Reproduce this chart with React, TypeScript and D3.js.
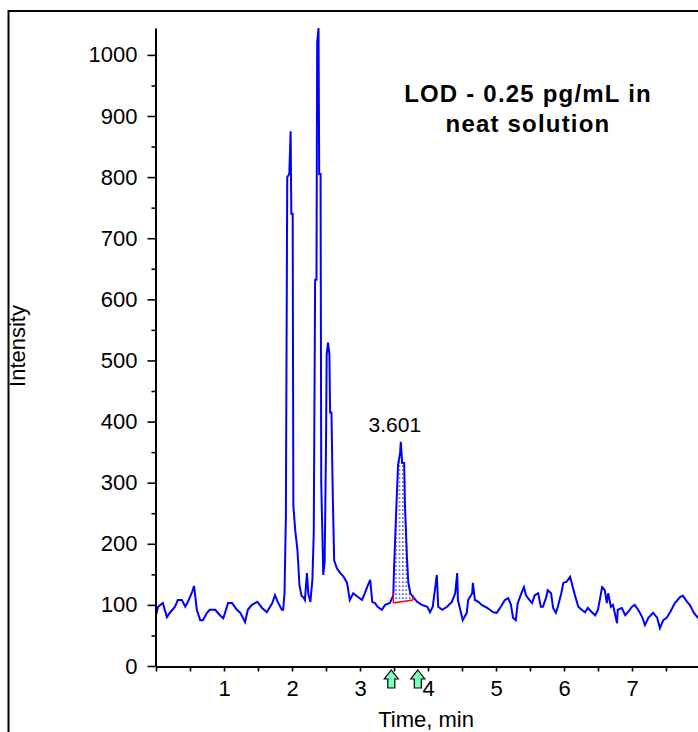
import * as d3 from "d3";
import React, { useEffect, useRef } from "react";

// retention time (min) and intensity
const timeMin = [
  0.00, 0.03, 0.10, 0.16, 0.21, 0.28, 0.32, 0.38, 0.43, 0.47, 0.53, 0.56, 0.60, 0.65, 0.69, 0.75, 0.79, 0.87, 0.94, 0.99,
  1.06, 1.12, 1.19, 1.24, 1.31, 1.35, 1.41, 1.49, 1.56, 1.63, 1.71, 1.75, 1.79, 1.85, 1.87,
  1.89, 1.91, 1.93, 1.96, 1.98, 1.99, 2.01, 2.02, 2.05, 2.08, 2.11, 2.14, 2.17, 2.19, 2.22, 2.24, 2.27, 2.30, 2.32,
  2.34, 2.36, 2.37, 2.39, 2.40, 2.42, 2.43, 2.46, 2.48, 2.50, 2.51, 2.53, 2.55, 2.56, 2.58, 2.60, 2.62,
  2.66, 2.71, 2.76, 2.81, 2.85, 2.90, 2.97, 3.03, 3.07, 3.12, 3.15, 3.18, 3.22, 3.26, 3.32, 3.37, 3.44,
  3.49, 3.50, 3.53, 3.56, 3.59, 3.60, 3.62, 3.65, 3.66, 3.69, 3.71, 3.74, 3.78,
  3.84, 3.91, 3.99, 4.03, 4.07, 4.13, 4.15, 4.21, 4.28, 4.35, 4.40, 4.43, 4.44, 4.50, 4.51, 4.57, 4.59, 4.65, 4.66,
  4.69, 4.74, 4.79, 4.87, 4.91, 4.96, 5.01, 5.06, 5.13, 5.18, 5.22, 5.25, 5.29, 5.32, 5.38, 5.41, 5.44, 5.47,
  5.53, 5.57, 5.62, 5.66, 5.69, 5.74, 5.76, 5.81, 5.84, 5.88, 5.91, 5.96, 5.99, 6.04, 6.09, 6.12, 6.16, 6.21,
  6.26, 6.31, 6.35, 6.41, 6.46, 6.50, 6.56, 6.57, 6.60, 6.63, 6.65, 6.69, 6.72, 6.78, 6.79, 6.85, 6.90, 6.94,
  7.00, 7.04, 7.09, 7.15, 7.19, 7.24, 7.31, 7.37, 7.41, 7.46, 7.51, 7.56, 7.63, 7.71, 7.75, 7.81, 7.85, 7.91, 7.97, 8.03,
];
const intensity = [
  83, 97, 103, 80, 88, 97, 108, 108, 97, 105, 121, 131, 92, 75, 75, 87, 92, 92, 83, 78,
  103, 103, 92, 87, 72, 92, 100, 105, 95, 88, 103, 116, 105, 92, 92,
  119, 244, 800, 805, 875, 740, 740, 262, 219, 190, 132, 115, 112, 108, 152, 118, 105, 141, 219,
  632, 632, 1020, 1044, 805, 805, 300, 149, 170, 360, 510, 529, 510, 415, 415, 277, 173,
  160, 152, 146, 136, 108, 119, 113, 108, 119, 133, 141, 105, 103, 97, 92, 100, 103,
  116, 157, 247, 329, 349, 367, 332, 332, 267, 178, 137, 119, 113,
  105, 100, 97, 88, 97, 149, 97, 92, 97, 105, 119, 152, 108, 80, 75, 87, 108, 119, 136,
  108, 105, 100, 95, 92, 88, 87, 95, 108, 111, 100, 79, 75, 103, 121, 129, 116, 111,
  103, 116, 119, 97, 97, 113, 124, 119, 95, 87, 97, 119, 136, 138, 146, 133, 116, 97,
  92, 88, 95, 88, 83, 92, 129, 128, 124, 103, 119, 97, 100, 70, 92, 95, 83, 88,
  97, 100, 92, 80, 67, 79, 87, 79, 62, 75, 79, 88, 103, 113, 115, 105, 100, 87, 79, 72,
];

const yMajorTicks = [0, 100, 200, 300, 400, 500, 600, 700, 800, 900, 1000];
const yMinorTicks = [50, 150, 250, 350, 450, 550, 650, 750, 850, 950];
const xTicks = [0, 0.5, 1, 1.5, 2, 2.5, 3, 3.5, 4, 4.5, 5, 5.5, 6, 6.5, 7, 7.5, 8];
const xLabelTicks = [1, 2, 3, 4, 5, 6, 7];

// integrated peak
const peakTime = 3.601;
const peakLabel = "3.601";
const integTimes = [3.49, 3.78];
const integBaseline = [103, 108];
const arrowTimes = [3.46, 3.85];

const titleLines = ["LOD - 0.25 pg/mL in", "neat solution"];

export default function App() {
  const svgRef = useRef<SVGSVGElement>(null);

  useEffect(() => {
    const svg = d3.select(svgRef.current);
    svg.selectAll("*").remove();
    const font = "'Liberation Sans', Arial, sans-serif";

    const x = d3.scaleLinear().domain([0, 8.1]).range([156, 156 + 8.1 * 68]);
    const y = d3.scaleLinear().domain([0, 1044]).range([666, 28]);

    // outer frame
    svg.append("rect")
      .attr("x", 8.5).attr("y", 11)
      .attr("width", 900).attr("height", 900)
      .attr("fill", "none").attr("stroke", "#000").attr("stroke-width", 2);

    const defs = svg.append("defs");
    const pat = defs.append("pattern")
      .attr("id", "dots")
      .attr("patternUnits", "userSpaceOnUse")
      .attr("width", 3.4).attr("height", 4);
    pat.append("rect").attr("x", 1).attr("y", 1.5).attr("width", 1.3).attr("height", 1.3).attr("fill", "#0000ff");

    // integrated area (dotted)
    const pts = timeMin.map((t, i) => ({ t, v: intensity[i] }));
    const base = d3.scaleLinear().domain(integTimes).range(integBaseline);
    const inPeak = pts.filter(d => d.t >= integTimes[0] && d.t <= integTimes[1]);
    const area = d3.area<{ t: number; v: number }>()
      .x(d => x(d.t))
      .y0(d => y(base(d.t)))
      .y1(d => y(d.v));
    svg.append("path")
      .datum(inPeak)
      .attr("d", area)
      .attr("fill", "url(#dots)");

    // trace
    const line = d3.line<{ t: number; v: number }>()
      .x(d => x(d.t))
      .y(d => y(d.v));
    svg.append("path")
      .datum(pts)
      .attr("d", line)
      .attr("fill", "none")
      .attr("stroke", "#0000ff")
      .attr("stroke-width", 2)
      .attr("stroke-linejoin", "miter");

    // red integration baseline and markers
    svg.append("line")
      .attr("x1", x(integTimes[0])).attr("y1", y(integBaseline[0]))
      .attr("x2", x(integTimes[1])).attr("y2", y(integBaseline[1]))
      .attr("stroke", "#ff0000").attr("stroke-width", 1.6);
    const first = inPeak[0], last = inPeak[inPeak.length - 1];
    svg.append("line")
      .attr("x1", x(first.t)).attr("y1", y(integBaseline[0]))
      .attr("x2", x(first.t)).attr("y2", y(first.v) - 2)
      .attr("stroke", "#ff0000").attr("stroke-width", 1.4);
    svg.append("line")
      .attr("x1", x(last.t)).attr("y1", y(integBaseline[1]))
      .attr("x2", x(last.t)).attr("y2", y(last.v) - 2)
      .attr("stroke", "#ff0000").attr("stroke-width", 1.4);

    // axes
    const yAxis = svg.append("g")
      .attr("transform", `translate(155.5,0)`)
      .call(d3.axisLeft(y).tickValues(yMajorTicks).tickSize(8).tickSizeOuter(0).tickPadding(10)
        .tickFormat(d3.format("d")));
    svg.append("g")
      .attr("transform", `translate(155.5,0)`)
      .call(d3.axisLeft(y).tickValues(yMinorTicks).tickSize(4).tickFormat(() => "").tickSizeOuter(0))
      .select(".domain").remove();

    const xAxis = svg.append("g")
      .attr("transform", `translate(0,666.5)`)
      .call(d3.axisBottom(x).tickValues(xTicks).tickSize(5).tickSizeOuter(0).tickPadding(9)
        .tickFormat(d => (xLabelTicks.includes(+d) ? String(d) : "")));

    [yAxis, xAxis].forEach(g => {
      g.select(".domain").attr("stroke", "#000").attr("stroke-width", 2);
      g.selectAll("text").attr("font-family", font).attr("font-size", 22).attr("fill", "#000");
    });
    svg.selectAll(".tick line").attr("stroke", "#000").attr("stroke-width", 1.6);

    // integration arrows below the axis
    arrowTimes.forEach(t => {
      const cx = x(t);
      const top = 670, mid = 679, bot = 688;
      svg.append("path")
        .attr("d", `M${cx},${top} L${cx + 7},${mid} L${cx + 3.5},${mid} L${cx + 3.5},${bot} L${cx - 3.5},${bot} L${cx - 3.5},${mid} L${cx - 7},${mid} Z`)
        .attr("fill", "#80ffb8").attr("stroke", "#000").attr("stroke-width", 1.2);
    });

    // labels
    svg.append("text")
      .attr("x", x(peakTime) - 6).attr("y", 432)
      .attr("text-anchor", "middle")
      .attr("font-family", font).attr("font-size", 21)
      .text(peakLabel);

    svg.append("text")
      .attr("x", 426).attr("y", 727)
      .attr("text-anchor", "middle")
      .attr("font-family", font).attr("font-size", 22)
      .text("Time, min");

    svg.append("text")
      .attr("transform", "translate(25,346) rotate(-90)")
      .attr("text-anchor", "middle")
      .attr("font-family", font).attr("font-size", 22)
      .text("Intensity");

    svg.append("g").selectAll("text")
      .data(titleLines)
      .enter().append("text")
      .attr("x", 528)
      .attr("y", (d, i) => 102 + i * 30)
      .attr("text-anchor", "middle")
      .attr("font-family", font).attr("font-size", 24).attr("font-weight", "bold")
      .attr("letter-spacing", 1.2)
      .text(d => d);
  }, []);

  return (
    <div style={{ position: "absolute", left: 0, top: 0 }}>
      <svg ref={svgRef} width={698} height={732} style={{ display: "block", background: "#fff" }} />
    </div>
  );
}
